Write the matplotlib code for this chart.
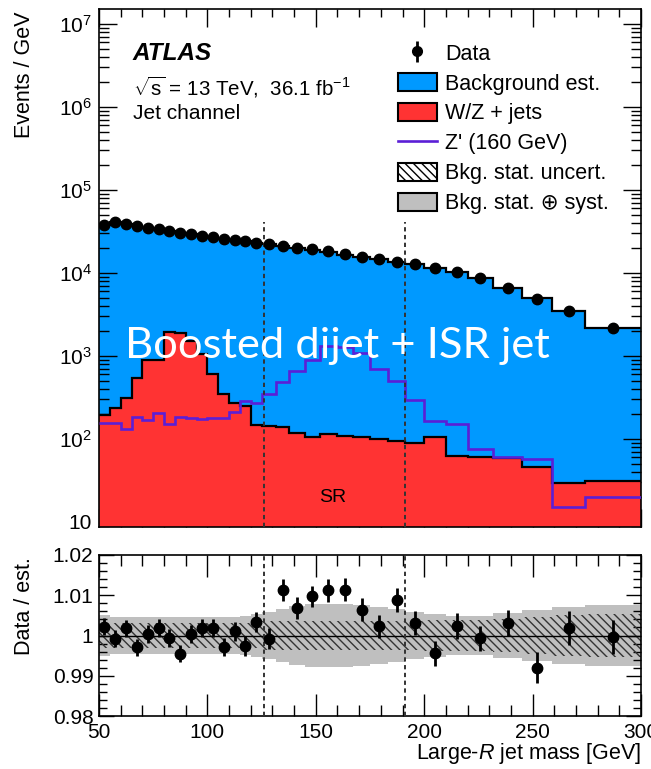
import numpy as np
import matplotlib
matplotlib.use("Agg")
import matplotlib.pyplot as plt
from matplotlib.patches import Patch
from matplotlib.lines import Line2D
from matplotlib.ticker import (MultipleLocator, FuncFormatter,
                               NullFormatter, FixedLocator)

plt.rcParams["font.family"] = ["Liberation Sans", "DejaVu Sans"]
plt.rcParams["mathtext.fontset"] = "custom"
plt.rcParams["mathtext.rm"] = "Liberation Sans"
plt.rcParams["mathtext.it"] = "Liberation Sans:italic"
plt.rcParams["mathtext.bf"] = "Liberation Sans:bold"
plt.rcParams["hatch.linewidth"] = 1.0

# ---- binning: large-R jet mass [GeV] ----
mass_edges = [50, 55, 60, 65, 70, 75, 80, 85, 90, 95, 100, 105, 110, 115, 120, 125,
              131.6, 137.8, 145, 151.9, 159.6, 167.3, 175, 183.4, 191.1, 200,
              210, 220, 231.9, 245.2, 259.1, 274.2, 300]

# ---- events / GeV ----
background = [37800, 40700, 39200, 37100, 35000, 33500, 32300, 30700, 29200, 27900,
              26800, 25700, 24900, 24300, 23100, 22200, 20900, 20000, 19100, 18100,
              16700, 15600, 14800, 13600, 12700, 11500, 10400, 8800, 6650, 4950,
              3480, 2200]
wz_jets = [195, 234, 315, 538, 895, 895, 1960, 1910, 1500, 1050,
           600, 345, 270, 250, 148, 144, 138, 119, 105, 115,
           110, 105, 101, 95, 89, 105, 63, 60, 59, 46,
           29.5, 31]
zprime_160 = [155, 158, 133, 185, 169, 208, 150, 182, 177, 174,
              177, 180, 213, 285, 272, 345, 490, 660, 900, 1320,
              1280, 1080, 690, 495, 298, 165, 153, 76, 60, 57,
              15, 20]

# ---- data / estimate ----
ratio = [1.0022, 0.9992, 1.0018, 0.9971, 1.0003, 1.0019, 0.9994, 0.9955, 1.0004, 1.0019,
         1.0019, 0.9971, 1.0010, 0.9974, 1.0033, 0.9992, 1.0113, 1.0069, 1.0097, 1.0112,
         1.0114, 1.0064, 1.0023, 1.0089, 1.0031, 0.9956, 1.0023, 0.9993, 1.0031, 0.9920,
         1.0019, 0.9996]
ratio_err = [0.0021, 0.0021, 0.0021, 0.0021, 0.0022, 0.0022, 0.0022, 0.0022, 0.0022, 0.0023,
             0.0023, 0.0023, 0.0024, 0.0024, 0.0025, 0.0026, 0.0027, 0.0027, 0.0027, 0.0028,
             0.0028, 0.0028, 0.0029, 0.0030, 0.0030, 0.0031, 0.0032, 0.0031, 0.0033, 0.0038,
             0.0043, 0.0043]
bkg_stat = [0.0031] * 15 + [0.0035] * 10 + [0.0038, 0.0038, 0.0038, 0.0042, 0.0046, 0.0050, 0.0053]
bkg_total = [0.0050, 0.0045, 0.0045, 0.0045, 0.0045, 0.0045, 0.0045, 0.0045, 0.0045, 0.0045,
             0.0045, 0.0045, 0.0046, 0.0048, 0.0053, 0.0058, 0.0066, 0.0074, 0.0078, 0.0079,
             0.0079, 0.0075, 0.0070, 0.0065, 0.0058, 0.0053, 0.0049, 0.0049, 0.0057, 0.0064,
             0.0071, 0.0077]

sr_bounds = [126, 191]
decades = [1, 2, 3, 4, 5, 6, 7]

edges = np.array(mass_edges)
centers = 0.5 * (edges[:-1] + edges[1:])
bkg = np.array(background)
rat = np.array(ratio)
data = bkg * rat

BLUE = "#0099ff"
RED = "#ff3333"
PURPLE = "#5b1fd6"
GREY = "#bfbfbf"

W, H = 651, 769
fig = plt.figure(figsize=(W / 100, H / 100), dpi=100)


def fx(px):
    return px / W


def fy(py):
    return 1 - py / H


ax = fig.add_axes([fx(99), fy(527), fx(641) - fx(99), fy(9) - fy(527)])
rax = fig.add_axes([fx(99), fy(716), fx(641) - fx(99), fy(555) - fy(716)])

ymin, ymax = 8.7, 1.52e7
TICK_FS = 15

# ---- upper panel ----
ax.stairs(bkg, edges, baseline=1, fill=True, color=BLUE, lw=0, zorder=1)
ax.stairs(wz_jets, edges, baseline=1, fill=True, color=RED, lw=0, zorder=2)
ax.stairs(bkg, edges, baseline=None, color="black", lw=1.6, zorder=3)
ax.stairs(wz_jets, edges, baseline=None, color="black", lw=1.6, zorder=3)
ax.stairs(zprime_160, edges, baseline=None, color=PURPLE, lw=1.9, zorder=4)
ax.plot(centers, data, "o", color="black", ms=7.5, zorder=6)
for xb in sr_bounds:
    ax.plot([xb, xb], [ymin, 4.1e4], color="#333333", lw=1.4,
            ls=(0, (2.2, 1.8)), zorder=5)

ax.set_yscale("log")
ax.set_xlim(50, 300)
ax.set_ylim(ymin, ymax)
major_y = [10.0 ** d for d in decades]
minor_y = [m * 10.0 ** d for d in [0] + decades for m in range(2, 10)
           if ymin <= m * 10.0 ** d <= ymax]
ax.yaxis.set_major_locator(FixedLocator(major_y))
ax.yaxis.set_minor_locator(FixedLocator(minor_y))
ax.yaxis.set_major_formatter(FuncFormatter(
    lambda v, _: "10" if abs(np.log10(v) - 1) < 1e-6 else r"$10^{%d}$" % round(np.log10(v))))
ax.yaxis.set_minor_formatter(NullFormatter())
ax.xaxis.set_major_locator(MultipleLocator(50))
ax.xaxis.set_minor_locator(MultipleLocator(10))
ax.tick_params(axis="x", labelbottom=False)
ax.tick_params(which="both", direction="in", top=True, right=True, width=1)
ax.tick_params(axis="y", which="major", length=13, labelsize=TICK_FS, pad=5)
ax.tick_params(axis="y", which="minor", length=7)
ax.tick_params(axis="x", which="major", length=13)
ax.tick_params(axis="x", which="minor", length=6)
for s in ax.spines.values():
    s.set_linewidth(1.2)

ax.text(158, 20, "SR", ha="center", va="center", fontsize=14, zorder=7)

fig.text(fx(133), fy(60), "ATLAS", fontsize=17.5, fontweight="bold",
         fontstyle="italic", va="baseline")
fig.text(fx(133), fy(96), r"$\sqrt{\mathrm{s}}$ = 13 TeV,  36.1 fb$^{-1}$",
         fontsize=14.8, va="baseline")
fig.text(fx(133), fy(119), "Jet channel", fontsize=15, va="baseline")

fig.text(fx(125), fy(358), "Boosted dijet + ISR jet", family="Lato",
         fontsize=31.3, color="white", va="baseline", zorder=10)

data_handle = ax.errorbar([], [], yerr=[], fmt="o", color="black", ms=7,
                          elinewidth=2, capsize=0)
handles = [
    data_handle,
    Patch(facecolor=BLUE, edgecolor="black", lw=1.5),
    Patch(facecolor=RED, edgecolor="black", lw=1.5),
    Line2D([], [], color=PURPLE, lw=1.9),
    Patch(facecolor="white", edgecolor="black", lw=1.5, hatch="\\\\\\\\"),
    Patch(facecolor=GREY, edgecolor="black", lw=1.5),
]
labels = ["Data", "Background est.", "W/Z + jets", "Z' (160 GeV)",
          "Bkg. stat. uncert.", "Bkg. stat. \u2295 syst."]
leg = fig.legend(handles, labels, loc="upper left",
                 bbox_to_anchor=(fx(398), fy(43)), frameon=False,
                 fontsize=15.5, handlelength=1.81, handleheight=0.93,
                 labelspacing=0.39, handletextpad=0.37,
                 borderpad=0, borderaxespad=0)

# ---- ratio panel ----
lo_tot = 1 - np.array(bkg_total)
hi_tot = 1 + np.array(bkg_total)
lo_st = 1 - np.array(bkg_stat)
hi_st = 1 + np.array(bkg_stat)
rax.stairs(hi_tot, edges, baseline=lo_tot, fill=True, color=GREY, lw=0, zorder=1)
rax.stairs(hi_st, edges, baseline=lo_st, fill=True, facecolor="none",
           edgecolor="#333333", lw=0, hatch="\\\\\\\\", zorder=2)
rax.axhline(1.0, color="black", lw=1.0, zorder=3)
rax.errorbar(centers, rat, yerr=ratio_err, fmt="o", color="black", ms=7.5,
             elinewidth=2, capsize=0, zorder=6)
for xb in sr_bounds:
    rax.axvline(xb, color="#333333", lw=1.4, ls=(0, (2.2, 1.8)), zorder=5)

rax.set_xlim(50, 300)
rax.set_ylim(0.98, 1.02)
rax.yaxis.set_major_locator(FixedLocator([0.98, 0.99, 1.0, 1.01, 1.02]))
rax.yaxis.set_minor_locator(MultipleLocator(0.002))
rax.yaxis.set_major_formatter(FuncFormatter(
    lambda v, _: "1" if abs(v - 1) < 1e-9 else ("%.2f" % v)))
rax.xaxis.set_major_locator(MultipleLocator(50))
rax.xaxis.set_minor_locator(MultipleLocator(10))
rax.tick_params(which="both", direction="in", top=True, right=True, width=1,
                labelsize=TICK_FS)
rax.tick_params(axis="y", which="major", length=11, pad=4)
rax.tick_params(axis="y", which="minor", length=6)
rax.tick_params(axis="x", which="major", length=16, pad=5)
rax.tick_params(axis="x", which="minor", length=8)
for s in rax.spines.values():
    s.set_linewidth(1.2)

fig.text(fx(641), fy(759), "Large-$R$ jet mass [GeV]", fontsize=15.5,
         ha="right", va="baseline")
fig.text(fx(25), fy(12), "Events / GeV", fontsize=15.5, rotation=90,
         ha="center", va="top")
fig.text(fx(25), fy(557), "Data / est.", fontsize=15.5, rotation=90,
         ha="center", va="top")

fig.savefig("out.png", dpi=100)
